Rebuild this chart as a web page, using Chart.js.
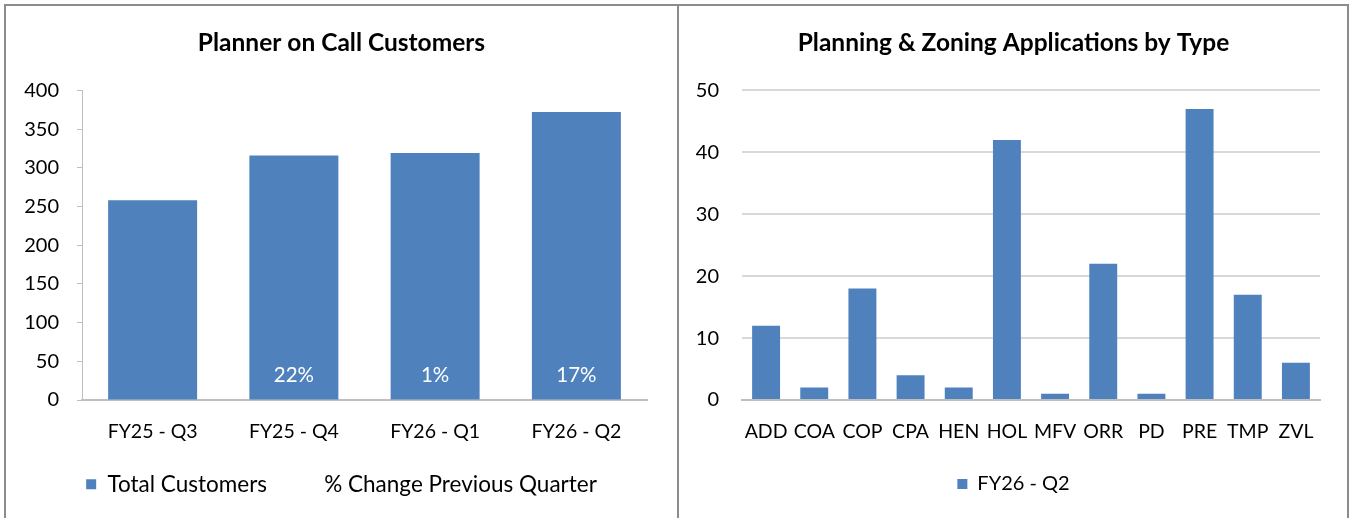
<!DOCTYPE html>
<html>
<head>
<meta charset="utf-8">
<script src="https://cdn.jsdelivr.net/npm/chart.js@4.4.1/dist/chart.umd.min.js"></script>
<style>
  html, body { margin: 0; padding: 0; background: #ffffff; }
  body { width: 1351px; height: 518px; position: relative; overflow: hidden; font-family: Lato, "Open Sans", sans-serif; }
  .panel-frame { position: absolute; background: #8c8c8c; }
  .chart-box { position: absolute; }
</style>
</head>
<body>
<div class="panel-frame" style="left:4px; top:4px; width:1345px; height:2px;"></div>
<div class="panel-frame" style="left:4px; top:4px; width:2px; height:514px;"></div>
<div class="panel-frame" style="left:677px; top:4px; width:2px; height:514px;"></div>
<div class="panel-frame" style="left:1347px; top:4px; width:2px; height:514px;"></div>

<div class="chart-box" style="left:6px; top:6px;"><canvas id="customers" width="671" height="512"></canvas></div>
<div class="chart-box" style="left:680px; top:6px;"><canvas id="applications" width="667" height="512"></canvas></div>

<script>
// Planner on Call: quarterly customer counts
const quarters = ['FY25 - Q3', 'FY25 - Q4', 'FY26 - Q1', 'FY26 - Q2'];
const totalCustomers = [258, 316, 319, 372];
const pctChange = [null, 22, 1, 17];
const customerTicks = [0, 50, 100, 150, 200, 250, 300, 350, 400];

// Planning & Zoning applications received, by type
const appTypes = ['ADD', 'COA', 'COP', 'CPA', 'HEN', 'HOL', 'MFV', 'ORR', 'PD', 'PRE', 'TMP', 'ZVL'];
const appCounts = [12, 2, 18, 4, 2, 42, 1, 22, 1, 47, 17, 6];
const appTicks = [0, 10, 20, 30, 40, 50];

const BAR_BLUE = '#4f81bd';
const AXIS_GREY = '#bfbfbf';
const GRID_GREY = '#d9d9d9';
const FONT = 'Lato, "Open Sans", sans-serif';

const TITLE_SIZE = 24.5;
const XTICK_SIZE = 19.5;
const YTICK_SIZE = 20;
const LEGEND_PAD = 36;

Chart.defaults.font.family = FONT;
Chart.defaults.font.size = XTICK_SIZE;
Chart.defaults.color = '#000000';

// Writes the percentage change inside the foot of each bar
const pctLabels = {
  id: 'pctLabels',
  afterDatasetsDraw(chart) {
    const meta = chart.getDatasetMeta(0);
    const pct = chart.data.datasets[1].data;
    const ctx = chart.ctx;
    ctx.save();
    ctx.font = '20.5px ' + FONT;
    ctx.fillStyle = '#ffffff';
    ctx.textAlign = 'center';
    ctx.textBaseline = 'middle';
    meta.data.forEach((bar, i) => {
      if (pct[i] === null || pct[i] === undefined) return;
      ctx.fillText(pct[i] + '%', bar.x, chart.chartArea.bottom - 25);
    });
    ctx.restore();
  }
};

// Centres title and legend across the whole canvas and lets the
// category labels hang below the (deliberately short) x-axis box.
const panelLayout = {
  id: 'panelLayout',
  afterLayout(chart) {
    const w = chart.width;
    [chart.titleBlock, chart.legend].forEach(box => {
      if (box) { box.left = 0; box.right = w; box.width = w; }
    });
    if (chart.scales.x) chart.scales.x.bottom = chart.height;
  }
};

function fixedWidth(w) {
  return function (scale) { scale.width = w; };
}
function fixedHeight(h) {
  return function (scale) { scale.height = h; };
}

function legendLabels(fills, size) {
  return {
    boxWidth: 10,
    boxHeight: 10,
    padding: LEGEND_PAD,
    font: { size: size },
    generateLabels(chart) {
      return chart.data.datasets.map((ds, i) => ({
        text: ds.label,
        fillStyle: fills[i],
        strokeStyle: 'rgba(0,0,0,0)',
        lineWidth: 0,
        hidden: false,
        datasetIndex: i
      }));
    }
  };
}

new Chart(document.getElementById('customers'), {
  type: 'bar',
  data: {
    labels: quarters,
    datasets: [
      {
        label: 'Total Customers',
        data: totalCustomers,
        backgroundColor: BAR_BLUE,
        borderWidth: 0,
        categoryPercentage: 1,
        barPercentage: 0.63,
        order: 2
      },
      {
        type: 'line',
        label: '% Change Previous Quarter',
        data: pctChange,
        yAxisID: 'pct',
        showLine: false,
        pointRadius: 0,
        borderColor: 'rgba(0,0,0,0)',
        backgroundColor: 'rgba(0,0,0,0)',
        order: 1
      }
    ]
  },
  options: {
    responsive: false,
    devicePixelRatio: 1,
    animation: false,
    layout: { padding: { left: 0, right: 30, top: 0, bottom: 12.5 } },
    scales: {
      x: {
        afterFit: fixedHeight(37),
        grid: { display: false, drawTicks: false },
        border: { display: true, color: AXIS_GREY, width: 2 },
        ticks: { padding: 20, font: { size: XTICK_SIZE } }
      },
      y: {
        min: 0,
        max: 400,
        afterBuildTicks(scale) { scale.ticks = customerTicks.map(v => ({ value: v })); },
        afterFit: fixedWidth(76),
        grid: { display: true, drawOnChartArea: false, drawTicks: true, tickLength: 5, color: AXIS_GREY },
        border: { display: true, color: AXIS_GREY, width: 1 },
        ticks: { padding: 18, font: { size: YTICK_SIZE } }
      },
      pct: {
        display: false,
        min: 0,
        max: 100
      }
    },
    plugins: {
      title: {
        display: true,
        text: 'Planner on Call Customers',
        font: { size: TITLE_SIZE, weight: 'bold' },
        color: '#000000',
        padding: { top: 22, bottom: 33 }
      },
      legend: {
        position: 'bottom',
        labels: legendLabels([BAR_BLUE, 'rgba(0,0,0,0)'], 22.5)
      },
      tooltip: { enabled: false }
    }
  },
  plugins: [pctLabels, panelLayout]
});

new Chart(document.getElementById('applications'), {
  type: 'bar',
  data: {
    labels: appTypes,
    datasets: [
      {
        label: 'FY26 - Q2',
        data: appCounts,
        backgroundColor: BAR_BLUE,
        borderWidth: 0,
        categoryPercentage: 1,
        barPercentage: 0.58
      }
    ]
  },
  options: {
    responsive: false,
    devicePixelRatio: 1,
    animation: false,
    layout: { padding: { left: 0, right: 27, top: 0, bottom: 14 } },
    scales: {
      x: {
        afterFit: fixedHeight(38),
        grid: { display: false, drawTicks: false },
        border: { display: true, color: AXIS_GREY, width: 2 },
        ticks: { padding: 20, font: { size: XTICK_SIZE }, maxRotation: 0, autoSkip: false }
      },
      y: {
        min: 0,
        max: 50,
        afterBuildTicks(scale) { scale.ticks = appTicks.map(v => ({ value: v })); },
        afterFit: fixedWidth(62),
        grid: { display: true, drawTicks: false, color: GRID_GREY, lineWidth: 2 },
        border: { display: false },
        ticks: { padding: 23, font: { size: YTICK_SIZE } }
      }
    },
    plugins: {
      title: {
        display: true,
        text: 'Planning & Zoning Applications by Type',
        font: { size: TITLE_SIZE, weight: 'bold' },
        color: '#000000',
        padding: { top: 22, bottom: 33 }
      },
      legend: {
        position: 'bottom',
        labels: legendLabels([BAR_BLUE], 20)
      },
      tooltip: { enabled: false }
    }
  },
  plugins: [panelLayout]
});
</script>
</body>
</html>
